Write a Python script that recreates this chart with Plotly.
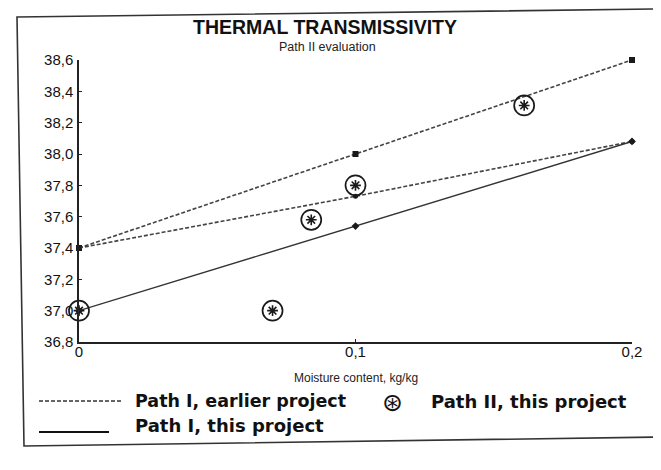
import plotly.graph_objects as go

# ---- data ----
moisture = [0.0, 0.1, 0.2]
earlier_upper = [37.4, 38.0, 38.6]
earlier_lower = [37.4, 37.73, 38.08]
this_project = [37.0, 37.54, 38.08]
path2_x = [0.0, 0.07, 0.084, 0.1, 0.161]
path2_y = [37.0, 37.0, 37.58, 37.8, 38.31]
x_ticks = [0.0, 0.1, 0.2]
x_tick_text = ["0", "0,1", "0,2"]

W, H = 661, 470
L, R, T, B = 71, 37, 52, 136
PW, PH = W - L - R, H - T - B


def px(x):
    return (x - L) / PW


def py(y):
    return (H - B - y) / PH


INK = "#1a1a1a"
DASH = "4px,2px"
fig = go.Figure()

fig.add_trace(go.Scatter(x=moisture, y=earlier_upper, mode="lines+markers",
                         line=dict(color="#444", width=1.6, dash=DASH),
                         marker=dict(symbol="square", size=6, color=INK),
                         cliponaxis=False, showlegend=False))
fig.add_trace(go.Scatter(x=moisture, y=earlier_lower, mode="lines+markers",
                         line=dict(color="#444", width=1.6, dash=DASH),
                         marker=dict(symbol="circle", size=5, color=INK),
                         cliponaxis=False, showlegend=False))
fig.add_trace(go.Scatter(x=moisture, y=this_project, mode="lines+markers",
                         line=dict(color="#333", width=1.4),
                         marker=dict(symbol="diamond", size=6, color=INK),
                         cliponaxis=False, showlegend=False))
fig.add_trace(go.Scatter(x=path2_x, y=path2_y, mode="markers",
                         marker=dict(symbol="circle-open", size=20, color=INK,
                                     line=dict(width=1.7, color=INK)),
                         cliponaxis=False, showlegend=False))
fig.add_trace(go.Scatter(x=path2_x, y=path2_y, mode="markers",
                         marker=dict(symbol="asterisk-open", size=9, color=INK,
                                     line=dict(width=1.6, color=INK)),
                         cliponaxis=False, showlegend=False))

ann = []
ann.append(dict(x=px(317), y=py(19), text="<b>THERMAL TRANSMISSIVITY</b>",
                font=dict(size=19.5, family="Liberation Sans, Arial", color="#111")))
ann.append(dict(x=px(319), y=py(39), text="Path II evaluation",
                font=dict(size=12.5, family="Liberation Sans, Arial", color="#222")))
ann.append(dict(x=px(348), y=py(370), text="Moisture content, kg/kg",
                font=dict(size=12, family="Liberation Sans, Arial", color="#222")))
leg_font = dict(size=18, family="DejaVu Sans", color="#111")
ann.append(dict(x=px(125), y=py(393), text="<b>Path I, earlier project</b>",
                xanchor="left", font=dict(size=17.5, family="DejaVu Sans", color="#111")))
ann.append(dict(x=px(125), y=py(417), text="<b>Path I, this project</b>",
                xanchor="left", font=leg_font))
ann.append(dict(x=px(421), y=py(393), text="<b>Path II, this project</b>",
                xanchor="left", font=leg_font))
ann.append(dict(x=px(384), y=py(394), text="⊛",
                font=dict(size=25, family="DejaVu Sans", color="#111")))
for a in ann:
    a.update(xref="paper", yref="paper", showarrow=False)
    a.setdefault("xanchor", "center")
    a.setdefault("yanchor", "middle")

shapes = [
    dict(type="line", xref="paper", yref="paper", x0=px(31), x1=px(113),
         y0=py(393), y1=py(393), line=dict(color="#333", width=1.6, dash=DASH)),
    dict(type="line", xref="paper", yref="paper", x0=px(31), x1=px(101),
         y0=py(424), y1=py(424), line=dict(color="#111", width=2)),
    dict(type="path", xref="paper", yref="paper",
         path=f"M {px(9)},{py(9)} L {px(651)},{py(1)} L {px(656)},{py(429)} L {px(16)},{py(438)} Z",
         line=dict(color="#333", width=1.6)),
]

fig.update_layout(
    width=W, height=H, margin=dict(l=L, r=R, t=T, b=B),
    paper_bgcolor="white", plot_bgcolor="white",
    separators=", ",
    annotations=ann, shapes=shapes, showlegend=False,
    font=dict(family="Liberation Sans, Arial", color="#111"),
)
fig.update_xaxes(range=[0, 0.2], tickvals=x_ticks, ticktext=x_tick_text,
                 showline=True, linecolor="#222", linewidth=1.5,
                 ticks="inside", ticklen=3, tickcolor="#222",
                 showgrid=False, zeroline=False, tickfont=dict(size=15),
                 ticklabelstandoff=-5)
fig.update_yaxes(range=[36.8, 38.6], dtick=0.2, tick0=36.8, tickformat=".1f",
                 showline=True, linecolor="#222", linewidth=1.5,
                 ticks="inside", ticklen=3, tickcolor="#222",
                 showgrid=False, zeroline=False, tickfont=dict(size=15),
                 ticklabelstandoff=1)

fig.write_html("out.html")
